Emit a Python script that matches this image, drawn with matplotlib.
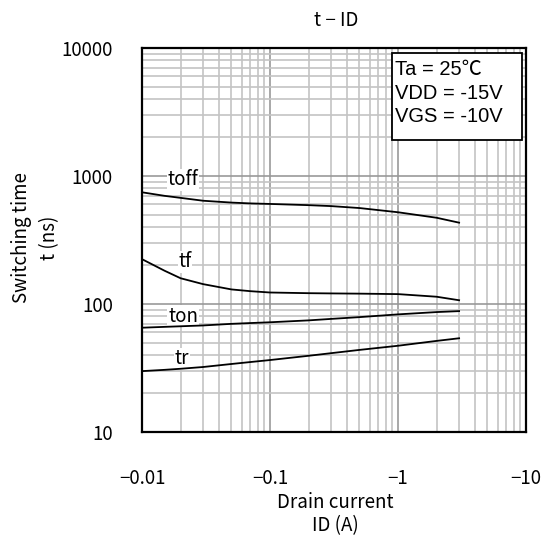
import numpy as np
import matplotlib.pyplot as plt
from matplotlib.patches import Rectangle
from matplotlib.ticker import FixedLocator, NullFormatter, LogLocator

plt.rcParams['font.family'] = ['Noto Sans CJK JP', 'DejaVu Sans']

# Drain current (A), negative as in the datasheet
id_a = [-0.01, -0.015, -0.02, -0.03, -0.05, -0.07, -0.1, -0.2, -0.3, -0.5, -1, -2, -3]

# Switching times (ns)
t_off = [746, 700, 675, 641, 620, 611, 605, 592, 582, 562, 521, 472, 432]
t_f = [224, 182, 159, 143, 130, 126, 123, 121.5, 121, 120.5, 119.5, 114, 107]
t_on = [65.3, 66.3, 67, 68, 70, 71, 72, 74.5, 76.5, 79, 83, 86.5, 88]
t_r = [29.9, 30.6, 31.2, 32.2, 34, 35.2, 36.5, 39.4, 41.3, 43.8, 47.2, 51.5, 54]

names = ["toff", "tf", "ton", "tr"]
series = [t_off, t_f, t_on, t_r]
# where the curve names sit (ID magnitude, ns)
label_x = [0.0209, 0.0217, 0.0209, 0.0206]
label_y = [931, 213, 80.5, 37.2]

x_ticks = [0.01, 0.1, 1, 10]
x_tick_labels = ["\u22120.01", "\u22120.1", "\u22121", "\u221210"]
y_ticks = [10, 100, 1000, 10000]
y_tick_labels = ["10", "100", "1000", "10000"]

fig = plt.figure(figsize=(5.55, 5.37), dpi=100)
ax = fig.add_axes([0.2559, 0.1955, 0.6919, 0.7151])

x = -np.array(id_a)
for name, vals, lx, ly in zip(names, series, label_x, label_y):
    ax.plot(x, vals, color="black", linewidth=1.3, zorder=3)
    ax.text(lx, ly, name, fontsize=13.5, ha="center", va="center", zorder=2,
            bbox=dict(facecolor="white", edgecolor="none", pad=0.5))

ax.set_xscale("log")
ax.set_yscale("log")
ax.set_xlim(0.01, 10)
ax.set_ylim(10, 10000)

ax.xaxis.set_major_locator(FixedLocator(x_ticks))
ax.set_xticklabels(x_tick_labels)
ax.yaxis.set_major_locator(FixedLocator(y_ticks))
ax.set_yticklabels(y_tick_labels)
ax.xaxis.set_minor_locator(LogLocator(base=10, subs=np.arange(2, 10)))
ax.yaxis.set_minor_locator(LogLocator(base=10, subs=np.arange(2, 10)))
ax.xaxis.set_minor_formatter(NullFormatter())
ax.yaxis.set_minor_formatter(NullFormatter())

ax.grid(True, which="major", color="#999999", linewidth=1.2, zorder=0)
ax.grid(True, which="minor", color="#c4c4c4", linewidth=1.2, zorder=0)
ax.set_axisbelow(True)
ax.tick_params(which="both", length=0)
ax.tick_params(axis="x", pad=26, labelsize=13.5)
ax.tick_params(axis="y", pad=21, labelsize=13.5)

for s in ax.spines.values():
    s.set_linewidth(1.6)
    s.set_color("black")

# title and axis titles placed in figure coordinates
fig.text(0.605, 1 - 21 / 537, "t \u2212 ID", fontsize=13.5, ha="center", va="center")
fig.text(0.605, 1 - 503 / 537, "Drain current", fontsize=13.5, ha="center", va="center")
fig.text(0.605, 1 - 526 / 537, "ID (A)", fontsize=13.5, ha="center", va="center")
fig.text(22 / 555, 1 - 238 / 537, "Switching time", fontsize=13.5, ha="center", va="center",
         rotation=90)
fig.text(50 / 555, 1 - 238 / 537, "t (ns)", fontsize=13.5, ha="center", va="center",
         rotation=90)

# conditions box
ax.add_patch(Rectangle((0.651, 0.760), 0.339, 0.227, transform=ax.transAxes,
                       facecolor="white", edgecolor="black", linewidth=1.3, zorder=4))
ax.text(0.66, 0.968, "Ta = 25\u2103\nVDD = -15V\nVGS = -10V", transform=ax.transAxes,
        fontsize=14.5, ha="left", va="top", family=["Liberation Sans", "Noto Sans CJK JP"],
        linespacing=1.3, zorder=5)

fig.savefig("out.png", dpi=100)
